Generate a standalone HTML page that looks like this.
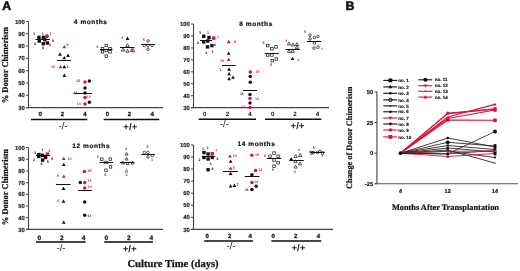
<!DOCTYPE html>
<html><head><meta charset="utf-8"><style>
html,body{margin:0;padding:0;background:#fff;}
body{width:520px;height:271px;overflow:hidden;}
svg{display:block;will-change:transform;}
svg text{text-rendering:geometricPrecision;}

</style></head><body>
<svg width="520" height="271" viewBox="0 0 520 271">
<rect width="520" height="271" fill="#fff"/>
<text x="2.2" y="9.8" font-family="'Liberation Sans', sans-serif" font-size="12.3" font-weight="bold" fill="#111" text-anchor="start" stroke="#111" stroke-width="0.55">A</text>
<text x="345.6" y="9.9" font-family="'Liberation Sans', sans-serif" font-size="12.3" font-weight="bold" fill="#111" text-anchor="start" stroke="#111" stroke-width="0.55">B</text>
<line x1="28.5" y1="21.4" x2="28.5" y2="108.1" stroke="#444" stroke-width="1.1"/>
<line x1="26" y1="107.6" x2="163" y2="107.6" stroke="#444" stroke-width="1.2"/>
<line x1="26" y1="21.4" x2="28.5" y2="21.4" stroke="#444" stroke-width="1.0"/>
<text x="24.8" y="23.5" font-family="'Liberation Sans', sans-serif" font-size="5.9" font-weight="bold" fill="#222" text-anchor="end" stroke="#222" stroke-width="0.15" stroke-linejoin="round">100</text>
<line x1="26" y1="33.71" x2="28.5" y2="33.71" stroke="#444" stroke-width="1.0"/>
<text x="24.8" y="35.81" font-family="'Liberation Sans', sans-serif" font-size="5.9" font-weight="bold" fill="#222" text-anchor="end" stroke="#222" stroke-width="0.15" stroke-linejoin="round">90</text>
<line x1="26" y1="46.03" x2="28.5" y2="46.03" stroke="#444" stroke-width="1.0"/>
<text x="24.8" y="48.13" font-family="'Liberation Sans', sans-serif" font-size="5.9" font-weight="bold" fill="#222" text-anchor="end" stroke="#222" stroke-width="0.15" stroke-linejoin="round">80</text>
<line x1="26" y1="58.34" x2="28.5" y2="58.34" stroke="#444" stroke-width="1.0"/>
<text x="24.8" y="60.44" font-family="'Liberation Sans', sans-serif" font-size="5.9" font-weight="bold" fill="#222" text-anchor="end" stroke="#222" stroke-width="0.15" stroke-linejoin="round">70</text>
<line x1="26" y1="70.66" x2="28.5" y2="70.66" stroke="#444" stroke-width="1.0"/>
<text x="24.8" y="72.76" font-family="'Liberation Sans', sans-serif" font-size="5.9" font-weight="bold" fill="#222" text-anchor="end" stroke="#222" stroke-width="0.15" stroke-linejoin="round">60</text>
<line x1="26" y1="82.97" x2="28.5" y2="82.97" stroke="#444" stroke-width="1.0"/>
<text x="24.8" y="85.07" font-family="'Liberation Sans', sans-serif" font-size="5.9" font-weight="bold" fill="#222" text-anchor="end" stroke="#222" stroke-width="0.15" stroke-linejoin="round">50</text>
<line x1="26" y1="95.29" x2="28.5" y2="95.29" stroke="#444" stroke-width="1.0"/>
<text x="24.8" y="97.39" font-family="'Liberation Sans', sans-serif" font-size="5.9" font-weight="bold" fill="#222" text-anchor="end" stroke="#222" stroke-width="0.15" stroke-linejoin="round">40</text>
<line x1="26" y1="107.6" x2="28.5" y2="107.6" stroke="#444" stroke-width="1.0"/>
<text x="24.8" y="109.7" font-family="'Liberation Sans', sans-serif" font-size="5.9" font-weight="bold" fill="#222" text-anchor="end" stroke="#222" stroke-width="0.15" stroke-linejoin="round">30</text>
<text x="40.1" y="116.1" font-family="'Liberation Sans', sans-serif" font-size="6.0" font-weight="bold" fill="#111" text-anchor="middle" stroke="#111" stroke-width="0.25" stroke-linejoin="round">0</text>
<text x="62.4" y="116.1" font-family="'Liberation Sans', sans-serif" font-size="6.0" font-weight="bold" fill="#111" text-anchor="middle" stroke="#111" stroke-width="0.25" stroke-linejoin="round">2</text>
<text x="84.9" y="116.1" font-family="'Liberation Sans', sans-serif" font-size="6.0" font-weight="bold" fill="#111" text-anchor="middle" stroke="#111" stroke-width="0.25" stroke-linejoin="round">4</text>
<text x="107.4" y="116.1" font-family="'Liberation Sans', sans-serif" font-size="6.0" font-weight="bold" fill="#111" text-anchor="middle" stroke="#111" stroke-width="0.25" stroke-linejoin="round">0</text>
<text x="129.3" y="116.1" font-family="'Liberation Sans', sans-serif" font-size="6.0" font-weight="bold" fill="#111" text-anchor="middle" stroke="#111" stroke-width="0.25" stroke-linejoin="round">2</text>
<text x="152.2" y="116.1" font-family="'Liberation Sans', sans-serif" font-size="6.0" font-weight="bold" fill="#111" text-anchor="middle" stroke="#111" stroke-width="0.25" stroke-linejoin="round">4</text>
<line x1="31" y1="119.4" x2="87.4" y2="119.4" stroke="#0a0a0a" stroke-width="1.5"/>
<text x="63" y="129" font-family="'Liberation Sans', sans-serif" font-size="9.6" font-weight="normal" fill="#222" text-anchor="middle" >-/-</text>
<line x1="103.7" y1="119.4" x2="159.3" y2="119.4" stroke="#0a0a0a" stroke-width="1.5"/>
<text x="130.3" y="129.9" font-family="'Liberation Sans', sans-serif" font-size="9.6" font-weight="bold" fill="#222" text-anchor="middle" >+/+</text>
<text x="73.8" y="23.9" font-family="'Liberation Sans', sans-serif" font-size="6.5" font-weight="bold" fill="#111" text-anchor="start" letter-spacing="0.6" stroke="#111" stroke-width="0.2" stroke-linejoin="round">4 months</text>
<line x1="193.5" y1="24" x2="193.5" y2="108.2" stroke="#444" stroke-width="1.1"/>
<line x1="191" y1="107.7" x2="329" y2="107.7" stroke="#444" stroke-width="1.2"/>
<line x1="191" y1="24" x2="193.5" y2="24" stroke="#444" stroke-width="1.0"/>
<text x="189.8" y="26.1" font-family="'Liberation Sans', sans-serif" font-size="5.9" font-weight="bold" fill="#222" text-anchor="end" stroke="#222" stroke-width="0.15" stroke-linejoin="round">100</text>
<line x1="191" y1="35.96" x2="193.5" y2="35.96" stroke="#444" stroke-width="1.0"/>
<text x="189.8" y="38.06" font-family="'Liberation Sans', sans-serif" font-size="5.9" font-weight="bold" fill="#222" text-anchor="end" stroke="#222" stroke-width="0.15" stroke-linejoin="round">90</text>
<line x1="191" y1="47.91" x2="193.5" y2="47.91" stroke="#444" stroke-width="1.0"/>
<text x="189.8" y="50.01" font-family="'Liberation Sans', sans-serif" font-size="5.9" font-weight="bold" fill="#222" text-anchor="end" stroke="#222" stroke-width="0.15" stroke-linejoin="round">80</text>
<line x1="191" y1="59.87" x2="193.5" y2="59.87" stroke="#444" stroke-width="1.0"/>
<text x="189.8" y="61.97" font-family="'Liberation Sans', sans-serif" font-size="5.9" font-weight="bold" fill="#222" text-anchor="end" stroke="#222" stroke-width="0.15" stroke-linejoin="round">70</text>
<line x1="191" y1="71.83" x2="193.5" y2="71.83" stroke="#444" stroke-width="1.0"/>
<text x="189.8" y="73.93" font-family="'Liberation Sans', sans-serif" font-size="5.9" font-weight="bold" fill="#222" text-anchor="end" stroke="#222" stroke-width="0.15" stroke-linejoin="round">60</text>
<line x1="191" y1="83.79" x2="193.5" y2="83.79" stroke="#444" stroke-width="1.0"/>
<text x="189.8" y="85.89" font-family="'Liberation Sans', sans-serif" font-size="5.9" font-weight="bold" fill="#222" text-anchor="end" stroke="#222" stroke-width="0.15" stroke-linejoin="round">50</text>
<line x1="191" y1="95.74" x2="193.5" y2="95.74" stroke="#444" stroke-width="1.0"/>
<text x="189.8" y="97.84" font-family="'Liberation Sans', sans-serif" font-size="5.9" font-weight="bold" fill="#222" text-anchor="end" stroke="#222" stroke-width="0.15" stroke-linejoin="round">40</text>
<line x1="191" y1="107.7" x2="193.5" y2="107.7" stroke="#444" stroke-width="1.0"/>
<text x="189.8" y="109.8" font-family="'Liberation Sans', sans-serif" font-size="5.9" font-weight="bold" fill="#222" text-anchor="end" stroke="#222" stroke-width="0.15" stroke-linejoin="round">30</text>
<text x="204.8" y="116.4" font-family="'Liberation Sans', sans-serif" font-size="6.2" font-weight="bold" fill="#111" text-anchor="middle" >0</text>
<text x="227.4" y="116.4" font-family="'Liberation Sans', sans-serif" font-size="6.2" font-weight="bold" fill="#111" text-anchor="middle" >2</text>
<text x="249.9" y="116.4" font-family="'Liberation Sans', sans-serif" font-size="6.2" font-weight="bold" fill="#111" text-anchor="middle" >4</text>
<text x="272.7" y="116.4" font-family="'Liberation Sans', sans-serif" font-size="6.2" font-weight="bold" fill="#111" text-anchor="middle" >0</text>
<text x="294.9" y="116.4" font-family="'Liberation Sans', sans-serif" font-size="6.2" font-weight="bold" fill="#111" text-anchor="middle" >2</text>
<text x="317.4" y="116.4" font-family="'Liberation Sans', sans-serif" font-size="6.2" font-weight="bold" fill="#111" text-anchor="middle" >4</text>
<line x1="198.7" y1="119.3" x2="256" y2="119.3" stroke="#0a0a0a" stroke-width="1.5"/>
<text x="224.3" y="127.4" font-family="'Liberation Sans', sans-serif" font-size="9.6" font-weight="normal" fill="#222" text-anchor="middle" >-/-</text>
<line x1="265" y1="119.3" x2="321.3" y2="119.3" stroke="#0a0a0a" stroke-width="1.5"/>
<text x="297.5" y="128.8" font-family="'Liberation Sans', sans-serif" font-size="9.6" font-weight="bold" fill="#222" text-anchor="middle" >+/+</text>
<text x="239.2" y="26" font-family="'Liberation Sans', sans-serif" font-size="6.5" font-weight="bold" fill="#111" text-anchor="start" letter-spacing="0.6" stroke="#111" stroke-width="0.2" stroke-linejoin="round">8 months</text>
<line x1="28.5" y1="147.6" x2="28.5" y2="229.9" stroke="#444" stroke-width="1.1"/>
<line x1="26" y1="229.4" x2="163" y2="229.4" stroke="#444" stroke-width="1.2"/>
<line x1="26" y1="147.6" x2="28.5" y2="147.6" stroke="#444" stroke-width="1.0"/>
<text x="24.8" y="149.7" font-family="'Liberation Sans', sans-serif" font-size="5.9" font-weight="bold" fill="#222" text-anchor="end" stroke="#222" stroke-width="0.15" stroke-linejoin="round">100</text>
<line x1="26" y1="159.29" x2="28.5" y2="159.29" stroke="#444" stroke-width="1.0"/>
<text x="24.8" y="161.39" font-family="'Liberation Sans', sans-serif" font-size="5.9" font-weight="bold" fill="#222" text-anchor="end" stroke="#222" stroke-width="0.15" stroke-linejoin="round">90</text>
<line x1="26" y1="170.97" x2="28.5" y2="170.97" stroke="#444" stroke-width="1.0"/>
<text x="24.8" y="173.07" font-family="'Liberation Sans', sans-serif" font-size="5.9" font-weight="bold" fill="#222" text-anchor="end" stroke="#222" stroke-width="0.15" stroke-linejoin="round">80</text>
<line x1="26" y1="182.66" x2="28.5" y2="182.66" stroke="#444" stroke-width="1.0"/>
<text x="24.8" y="184.76" font-family="'Liberation Sans', sans-serif" font-size="5.9" font-weight="bold" fill="#222" text-anchor="end" stroke="#222" stroke-width="0.15" stroke-linejoin="round">70</text>
<line x1="26" y1="194.34" x2="28.5" y2="194.34" stroke="#444" stroke-width="1.0"/>
<text x="24.8" y="196.44" font-family="'Liberation Sans', sans-serif" font-size="5.9" font-weight="bold" fill="#222" text-anchor="end" stroke="#222" stroke-width="0.15" stroke-linejoin="round">60</text>
<line x1="26" y1="206.03" x2="28.5" y2="206.03" stroke="#444" stroke-width="1.0"/>
<text x="24.8" y="208.13" font-family="'Liberation Sans', sans-serif" font-size="5.9" font-weight="bold" fill="#222" text-anchor="end" stroke="#222" stroke-width="0.15" stroke-linejoin="round">50</text>
<line x1="26" y1="217.71" x2="28.5" y2="217.71" stroke="#444" stroke-width="1.0"/>
<text x="24.8" y="219.81" font-family="'Liberation Sans', sans-serif" font-size="5.9" font-weight="bold" fill="#222" text-anchor="end" stroke="#222" stroke-width="0.15" stroke-linejoin="round">40</text>
<line x1="26" y1="229.4" x2="28.5" y2="229.4" stroke="#444" stroke-width="1.0"/>
<text x="24.8" y="231.5" font-family="'Liberation Sans', sans-serif" font-size="5.9" font-weight="bold" fill="#222" text-anchor="end" stroke="#222" stroke-width="0.15" stroke-linejoin="round">30</text>
<text x="39.25" y="240" font-family="'Liberation Sans', sans-serif" font-size="6.5" font-weight="bold" fill="#111" text-anchor="middle" stroke="#111" stroke-width="0.25" stroke-linejoin="round">0</text>
<text x="61.75" y="240" font-family="'Liberation Sans', sans-serif" font-size="6.5" font-weight="bold" fill="#111" text-anchor="middle" stroke="#111" stroke-width="0.25" stroke-linejoin="round">2</text>
<text x="83.6" y="240" font-family="'Liberation Sans', sans-serif" font-size="6.5" font-weight="bold" fill="#111" text-anchor="middle" stroke="#111" stroke-width="0.25" stroke-linejoin="round">4</text>
<text x="106.4" y="240" font-family="'Liberation Sans', sans-serif" font-size="6.5" font-weight="bold" fill="#111" text-anchor="middle" stroke="#111" stroke-width="0.25" stroke-linejoin="round">0</text>
<text x="128.9" y="240" font-family="'Liberation Sans', sans-serif" font-size="6.5" font-weight="bold" fill="#111" text-anchor="middle" stroke="#111" stroke-width="0.25" stroke-linejoin="round">2</text>
<text x="151.25" y="240" font-family="'Liberation Sans', sans-serif" font-size="6.5" font-weight="bold" fill="#111" text-anchor="middle" stroke="#111" stroke-width="0.25" stroke-linejoin="round">4</text>
<line x1="36" y1="242.1" x2="85.5" y2="242.1" stroke="#0a0a0a" stroke-width="1.5"/>
<text x="61" y="250.8" font-family="'Liberation Sans', sans-serif" font-size="9.6" font-weight="normal" fill="#222" text-anchor="middle" >-/-</text>
<line x1="104.2" y1="242.1" x2="152.9" y2="242.1" stroke="#0a0a0a" stroke-width="1.5"/>
<text x="129.7" y="252.2" font-family="'Liberation Sans', sans-serif" font-size="9.6" font-weight="bold" fill="#222" text-anchor="middle" >+/+</text>
<text x="72.2" y="148.2" font-family="'Liberation Sans', sans-serif" font-size="6.5" font-weight="bold" fill="#111" text-anchor="start" letter-spacing="0.6" stroke="#111" stroke-width="0.2" stroke-linejoin="round">12 months</text>
<line x1="193.5" y1="145" x2="193.5" y2="229.9" stroke="#444" stroke-width="1.1"/>
<line x1="191" y1="229.4" x2="333" y2="229.4" stroke="#444" stroke-width="1.2"/>
<line x1="191" y1="145" x2="193.5" y2="145" stroke="#444" stroke-width="1.0"/>
<text x="189.8" y="147.1" font-family="'Liberation Sans', sans-serif" font-size="5.9" font-weight="bold" fill="#222" text-anchor="end" stroke="#222" stroke-width="0.15" stroke-linejoin="round">100</text>
<line x1="191" y1="157.06" x2="193.5" y2="157.06" stroke="#444" stroke-width="1.0"/>
<text x="189.8" y="159.16" font-family="'Liberation Sans', sans-serif" font-size="5.9" font-weight="bold" fill="#222" text-anchor="end" stroke="#222" stroke-width="0.15" stroke-linejoin="round">90</text>
<line x1="191" y1="169.11" x2="193.5" y2="169.11" stroke="#444" stroke-width="1.0"/>
<text x="189.8" y="171.21" font-family="'Liberation Sans', sans-serif" font-size="5.9" font-weight="bold" fill="#222" text-anchor="end" stroke="#222" stroke-width="0.15" stroke-linejoin="round">80</text>
<line x1="191" y1="181.17" x2="193.5" y2="181.17" stroke="#444" stroke-width="1.0"/>
<text x="189.8" y="183.27" font-family="'Liberation Sans', sans-serif" font-size="5.9" font-weight="bold" fill="#222" text-anchor="end" stroke="#222" stroke-width="0.15" stroke-linejoin="round">70</text>
<line x1="191" y1="193.23" x2="193.5" y2="193.23" stroke="#444" stroke-width="1.0"/>
<text x="189.8" y="195.33" font-family="'Liberation Sans', sans-serif" font-size="5.9" font-weight="bold" fill="#222" text-anchor="end" stroke="#222" stroke-width="0.15" stroke-linejoin="round">60</text>
<line x1="191" y1="205.29" x2="193.5" y2="205.29" stroke="#444" stroke-width="1.0"/>
<text x="189.8" y="207.39" font-family="'Liberation Sans', sans-serif" font-size="5.9" font-weight="bold" fill="#222" text-anchor="end" stroke="#222" stroke-width="0.15" stroke-linejoin="round">50</text>
<line x1="191" y1="217.34" x2="193.5" y2="217.34" stroke="#444" stroke-width="1.0"/>
<text x="189.8" y="219.44" font-family="'Liberation Sans', sans-serif" font-size="5.9" font-weight="bold" fill="#222" text-anchor="end" stroke="#222" stroke-width="0.15" stroke-linejoin="round">40</text>
<line x1="191" y1="229.4" x2="193.5" y2="229.4" stroke="#444" stroke-width="1.0"/>
<text x="189.8" y="231.5" font-family="'Liberation Sans', sans-serif" font-size="5.9" font-weight="bold" fill="#222" text-anchor="end" stroke="#222" stroke-width="0.15" stroke-linejoin="round">30</text>
<text x="207.1" y="237.9" font-family="'Liberation Sans', sans-serif" font-size="6.0" font-weight="bold" fill="#111" text-anchor="middle" stroke="#111" stroke-width="0.25" stroke-linejoin="round">0</text>
<text x="229.7" y="237.9" font-family="'Liberation Sans', sans-serif" font-size="6.0" font-weight="bold" fill="#111" text-anchor="middle" stroke="#111" stroke-width="0.25" stroke-linejoin="round">2</text>
<text x="250.2" y="237.9" font-family="'Liberation Sans', sans-serif" font-size="6.0" font-weight="bold" fill="#111" text-anchor="middle" stroke="#111" stroke-width="0.25" stroke-linejoin="round">4</text>
<text x="273.2" y="237.9" font-family="'Liberation Sans', sans-serif" font-size="6.0" font-weight="bold" fill="#111" text-anchor="middle" stroke="#111" stroke-width="0.25" stroke-linejoin="round">0</text>
<text x="295.7" y="237.9" font-family="'Liberation Sans', sans-serif" font-size="6.0" font-weight="bold" fill="#111" text-anchor="middle" stroke="#111" stroke-width="0.25" stroke-linejoin="round">2</text>
<text x="318.5" y="237.9" font-family="'Liberation Sans', sans-serif" font-size="6.0" font-weight="bold" fill="#111" text-anchor="middle" stroke="#111" stroke-width="0.25" stroke-linejoin="round">4</text>
<line x1="204.2" y1="241" x2="252.9" y2="241" stroke="#0a0a0a" stroke-width="1.5"/>
<text x="231" y="249" font-family="'Liberation Sans', sans-serif" font-size="9.6" font-weight="normal" fill="#222" text-anchor="middle" >-/-</text>
<line x1="271.4" y1="241" x2="321.2" y2="241" stroke="#0a0a0a" stroke-width="1.5"/>
<text x="298.4" y="250.8" font-family="'Liberation Sans', sans-serif" font-size="9.6" font-weight="bold" fill="#222" text-anchor="middle" >+/+</text>
<text x="237.5" y="145.9" font-family="'Liberation Sans', sans-serif" font-size="6.5" font-weight="bold" fill="#111" text-anchor="start" letter-spacing="0.6" stroke="#111" stroke-width="0.2" stroke-linejoin="round">14 months</text>
<text transform="translate(7.6,103.3) rotate(-90)" font-family="Liberation Serif, serif" font-size="8.9" font-weight="bold" fill="#111" stroke="#111" stroke-width="0.2" stroke-linejoin="round" textLength="76.3" lengthAdjust="spacingAndGlyphs">% Donor Chimerism</text>
<text transform="translate(8.0,225.2) rotate(-90)" font-family="Liberation Serif, serif" font-size="8.9" font-weight="bold" fill="#111" stroke="#111" stroke-width="0.2" stroke-linejoin="round" textLength="76.3" lengthAdjust="spacingAndGlyphs">% Donor Chimerism</text>
<text x="127.4" y="267.4" font-family="'Liberation Serif', serif" font-size="10.6" font-weight="bold" fill="#111" text-anchor="start" stroke="#111" stroke-width="0.25" stroke-linejoin="round">Culture Time (days)</text>
<text transform="translate(352.3,188.9) rotate(-90)" font-family="Liberation Serif, serif" font-size="8.3" font-weight="bold" fill="#111" stroke="#111" stroke-width="0.2" stroke-linejoin="round">Change of Donor Chimerism</text>
<text x="391.9" y="210" font-family="'Liberation Serif', serif" font-size="8.35" font-weight="bold" fill="#111" text-anchor="start" stroke="#111" stroke-width="0.2" stroke-linejoin="round">Months After Transplantation</text>
<rect x="37.2" y="35.7" width="3.4" height="3.4" fill="#111"/>
<rect x="41.6" y="35.7" width="3.4" height="3.4" fill="#111"/>
<rect x="37.6" y="39.4" width="3.4" height="3.4" fill="#111"/>
<rect x="41.6" y="42" width="3.4" height="3.4" fill="#111"/>
<rect x="45.7" y="41.3" width="3.4" height="3.4" fill="#111"/>
<rect x="43.1" y="37.9" width="3.4" height="3.4" fill="#111"/>
<circle cx="46.9" cy="36.3" r="2" fill="#d4143c"/>
<line x1="35.5" y1="39.5" x2="50" y2="39.5" stroke="#111" stroke-width="1.0"/>
<text x="34" y="35.3" font-family="'Liberation Sans', sans-serif" font-size="3.6" font-weight="bold" fill="#111" text-anchor="middle" >1</text>
<text x="42.4" y="35.3" font-family="'Liberation Sans', sans-serif" font-size="3.6" font-weight="bold" fill="#111" text-anchor="middle" >1</text>
<text x="50.5" y="35.3" font-family="'Liberation Sans', sans-serif" font-size="3.6" font-weight="bold" fill="#d4143c" text-anchor="middle" >1</text>
<text x="53" y="41.9" font-family="'Liberation Sans', sans-serif" font-size="3.6" font-weight="bold" fill="#111" text-anchor="middle" >6</text>
<text x="35" y="44.8" font-family="'Liberation Sans', sans-serif" font-size="3.6" font-weight="bold" fill="#111" text-anchor="middle" >2</text>
<text x="50" y="46.1" font-family="'Liberation Sans', sans-serif" font-size="3.6" font-weight="bold" fill="#111" text-anchor="middle" >3</text>
<text x="43" y="49.1" font-family="'Liberation Sans', sans-serif" font-size="3.6" font-weight="bold" fill="#111" text-anchor="middle" >8</text>
<polygon points="64.3,44.95 62.4,48.37 66.2,48.37" fill="#d4143c"/>
<text x="67.6" y="46.3" font-family="'Liberation Sans', sans-serif" font-size="3.6" font-weight="bold" fill="#d4143c" text-anchor="middle" >9</text>
<polygon points="60,52.35 58.1,55.77 61.9,55.77" fill="#111"/>
<polygon points="68,53.55 66.1,56.97 69.9,56.97" fill="#111"/>
<polygon points="64.3,55.95 62.4,59.37 66.2,59.37" fill="#111"/>
<polygon points="64.3,64.95 62.4,68.37 66.2,68.37" fill="#111"/>
<polygon points="64.3,73.55 62.4,76.97 66.2,76.97" fill="#111"/>
<polygon points="60.5,64.95 58.6,68.37 62.4,68.37" fill="#d4143c"/>
<text x="53" y="68.3" font-family="'Liberation Sans', sans-serif" font-size="3.6" font-weight="bold" fill="#d4143c" text-anchor="middle" >10</text>
<text x="67.7" y="68.3" font-family="'Liberation Sans', sans-serif" font-size="3.6" font-weight="bold" fill="#111" text-anchor="middle" >1</text>
<line x1="56.8" y1="60.5" x2="71" y2="60.5" stroke="#111" stroke-width="1.0"/>
<circle cx="85" cy="81.9" r="1.75" fill="#d4143c"/>
<text x="78" y="81.5" font-family="'Liberation Sans', sans-serif" font-size="3.6" font-weight="bold" fill="#d4143c" text-anchor="middle" >15</text>
<circle cx="89.4" cy="80.9" r="1.75" fill="#111"/>
<circle cx="85" cy="87.9" r="1.75" fill="#111"/>
<circle cx="85" cy="93.1" r="1.75" fill="#111"/>
<circle cx="89.4" cy="102.25" r="1.75" fill="#111"/>
<line x1="73.75" y1="93.5" x2="92" y2="93.5" stroke="#111" stroke-width="1.0"/>
<text x="75.5" y="94.4" font-family="'Liberation Sans', sans-serif" font-size="3.6" font-weight="bold" fill="#111" text-anchor="middle" >11</text>
<circle cx="85" cy="97.5" r="1.75" fill="#d4143c"/>
<text x="88.8" y="97.6" font-family="'Liberation Sans', sans-serif" font-size="3.6" font-weight="bold" fill="#d4143c" text-anchor="middle" >13</text>
<circle cx="85" cy="104" r="1.75" fill="#d4143c"/>
<text x="78.8" y="104.8" font-family="'Liberation Sans', sans-serif" font-size="3.6" font-weight="bold" fill="#d4143c" text-anchor="middle" >14</text>
<rect x="105" y="44.25" width="2.5" height="2.5" fill="none" stroke="#111" stroke-width="0.7"/>
<rect x="101.25" y="47.35" width="2.5" height="2.5" fill="none" stroke="#111" stroke-width="0.7"/>
<rect x="108.75" y="47.35" width="2.5" height="2.5" fill="none" stroke="#111" stroke-width="0.7"/>
<rect x="101.25" y="50.5" width="2.5" height="2.5" fill="none" stroke="#111" stroke-width="0.7"/>
<rect x="105" y="49.25" width="2.5" height="2.5" fill="none" stroke="#111" stroke-width="0.7"/>
<rect x="108.75" y="50.5" width="2.5" height="2.5" fill="none" stroke="#111" stroke-width="0.7"/>
<rect x="105" y="54.85" width="2.5" height="2.5" fill="none" stroke="#111" stroke-width="0.7"/>
<text x="97.5" y="48.05" font-family="'Liberation Sans', sans-serif" font-size="3.6" font-weight="bold" fill="#d4143c" text-anchor="middle" >6</text>
<line x1="100" y1="49.5" x2="112.5" y2="49.5" stroke="#111" stroke-width="1.0"/>
<text x="122" y="38.7" font-family="'Liberation Sans', sans-serif" font-size="3.6" font-weight="bold" fill="#d4143c" text-anchor="middle" >4</text>
<polygon points="127.5,36.55 125.6,39.97 129.4,39.97" fill="#111"/>
<polygon points="127.5,43.72 125.85,46.69 129.15,46.69" fill="none" stroke="#111" stroke-width="0.7"/>
<polygon points="123,48.12 121.35,51.09 124.65,51.09" fill="none" stroke="#111" stroke-width="0.7"/>
<polygon points="127.5,49.22 125.85,52.19 129.15,52.19" fill="none" stroke="#111" stroke-width="0.7"/>
<polygon points="131.9,48.47 130.25,51.44 133.55,51.44" fill="none" stroke="#111" stroke-width="0.7"/>
<polygon points="133,48.45 131.1,51.87 134.9,51.87" fill="none" stroke="#d4143c" stroke-width="0.7"/>
<line x1="120" y1="47.5" x2="134.4" y2="47.5" stroke="#111" stroke-width="1.0"/>
<text x="143.75" y="40.55" font-family="'Liberation Sans', sans-serif" font-size="3.6" font-weight="bold" fill="#d4143c" text-anchor="middle" >5</text>
<circle cx="148" cy="41" r="1.3" fill="none" stroke="#111" stroke-width="0.7"/>
<circle cx="144.4" cy="45.5" r="1.3" fill="none" stroke="#111" stroke-width="0.7"/>
<circle cx="148" cy="45.5" r="1.3" fill="none" stroke="#111" stroke-width="0.7"/>
<circle cx="152" cy="45.5" r="1.3" fill="none" stroke="#111" stroke-width="0.7"/>
<circle cx="148" cy="49.25" r="1.3" fill="none" stroke="#111" stroke-width="0.7"/>
<line x1="141" y1="44.5" x2="155" y2="44.5" stroke="#111" stroke-width="1.0"/>
<rect x="202.05" y="34.55" width="3.4" height="3.4" fill="#111"/>
<rect x="202.05" y="40.2" width="3.4" height="3.4" fill="#111"/>
<rect x="206.05" y="39.3" width="3.4" height="3.4" fill="#111"/>
<rect x="207.3" y="35.8" width="3.4" height="3.4" fill="#111"/>
<rect x="205.8" y="45.2" width="3.4" height="3.4" fill="#111"/>
<rect x="210.2" y="43.9" width="3.4" height="3.4" fill="#111"/>
<rect x="212.05" y="36.4" width="3.4" height="3.4" fill="#d4143c"/>
<line x1="200" y1="40.5" x2="212" y2="40.5" stroke="#111" stroke-width="1.0"/>
<text x="200" y="34.3" font-family="'Liberation Sans', sans-serif" font-size="3.6" font-weight="bold" fill="#111" text-anchor="middle" >3</text>
<text x="208" y="33.8" font-family="'Liberation Sans', sans-serif" font-size="3.6" font-weight="bold" fill="#111" text-anchor="middle" >1</text>
<text x="218" y="38.2" font-family="'Liberation Sans', sans-serif" font-size="3.6" font-weight="bold" fill="#d4143c" text-anchor="middle" >1</text>
<text x="198" y="44.3" font-family="'Liberation Sans', sans-serif" font-size="3.6" font-weight="bold" fill="#111" text-anchor="middle" >2</text>
<text x="215" y="45.7" font-family="'Liberation Sans', sans-serif" font-size="3.6" font-weight="bold" fill="#111" text-anchor="middle" >6</text>
<text x="206.25" y="54.3" font-family="'Liberation Sans', sans-serif" font-size="3.6" font-weight="bold" fill="#111" text-anchor="middle" >4</text>
<text x="212.5" y="52.55" font-family="'Liberation Sans', sans-serif" font-size="3.6" font-weight="bold" fill="#111" text-anchor="middle" >3</text>
<polygon points="228.75,39.85 226.85,43.27 230.65,43.27" fill="#d4143c"/>
<text x="235" y="43.3" font-family="'Liberation Sans', sans-serif" font-size="3.6" font-weight="bold" fill="#d4143c" text-anchor="middle" >9</text>
<polygon points="228.75,51.45 226.85,54.87 230.65,54.87" fill="#111"/>
<polygon points="229.1,67.35 227.2,70.77 231,70.77" fill="#111"/>
<polygon points="229.1,71.95 227.2,75.37 231,75.37" fill="#111"/>
<polygon points="229.1,76.95 227.2,80.37 231,80.37" fill="#111"/>
<polygon points="233,75.45 231.1,78.87 234.9,78.87" fill="#111"/>
<polygon points="228.75,57.7 226.85,61.12 230.65,61.12" fill="#d4143c"/>
<text x="221.9" y="61.9" font-family="'Liberation Sans', sans-serif" font-size="3.6" font-weight="bold" fill="#d4143c" text-anchor="middle" >10</text>
<line x1="222" y1="65.5" x2="235.6" y2="65.5" stroke="#111" stroke-width="1.0"/>
<text x="220.3" y="70.7" font-family="'Liberation Sans', sans-serif" font-size="3.6" font-weight="bold" fill="#111" text-anchor="middle" >1</text>
<circle cx="250.25" cy="72.1" r="1.75" fill="#d4143c"/>
<text x="257.5" y="72.8" font-family="'Liberation Sans', sans-serif" font-size="3.6" font-weight="bold" fill="#d4143c" text-anchor="middle" >15</text>
<circle cx="250.25" cy="76.6" r="1.75" fill="#111"/>
<circle cx="250.25" cy="82.25" r="1.75" fill="#111"/>
<circle cx="250" cy="94.4" r="1.75" fill="#111"/>
<circle cx="250" cy="103.1" r="1.75" fill="#111"/>
<line x1="243" y1="90.5" x2="257" y2="90.5" stroke="#111" stroke-width="1.0"/>
<text x="241.9" y="94.8" font-family="'Liberation Sans', sans-serif" font-size="3.6" font-weight="bold" fill="#111" text-anchor="middle" >11</text>
<circle cx="250" cy="98.5" r="1.75" fill="#d4143c"/>
<text x="256.9" y="99.8" font-family="'Liberation Sans', sans-serif" font-size="3.6" font-weight="bold" fill="#d4143c" text-anchor="middle" >13</text>
<circle cx="250" cy="107.5" r="1.75" fill="#d4143c"/>
<text x="243" y="108.2" font-family="'Liberation Sans', sans-serif" font-size="3.6" font-weight="bold" fill="#d4143c" text-anchor="middle" >14</text>
<text x="263.5" y="43.8" font-family="'Liberation Sans', sans-serif" font-size="3.6" font-weight="bold" fill="#d4143c" text-anchor="middle" >6</text>
<rect x="266.5" y="44.35" width="2.5" height="2.5" fill="none" stroke="#111" stroke-width="0.7"/>
<rect x="270.65" y="47.5" width="2.5" height="2.5" fill="none" stroke="#111" stroke-width="0.7"/>
<rect x="274.75" y="45.65" width="2.5" height="2.5" fill="none" stroke="#111" stroke-width="0.7"/>
<rect x="266.5" y="53.75" width="2.5" height="2.5" fill="none" stroke="#111" stroke-width="0.7"/>
<rect x="270.65" y="53.75" width="2.5" height="2.5" fill="none" stroke="#111" stroke-width="0.7"/>
<rect x="271" y="59.35" width="2.5" height="2.5" fill="none" stroke="#111" stroke-width="0.7"/>
<rect x="275" y="57.75" width="2.5" height="2.5" fill="none" stroke="#111" stroke-width="0.7"/>
<line x1="265" y1="53.5" x2="278.75" y2="53.5" stroke="#111" stroke-width="1.0"/>
<text x="271.25" y="65.7" font-family="'Liberation Sans', sans-serif" font-size="3.6" font-weight="bold" fill="#d4143c" text-anchor="middle" >5</text>
<text x="286.25" y="41.9" font-family="'Liberation Sans', sans-serif" font-size="3.6" font-weight="bold" fill="#d4143c" text-anchor="middle" >4</text>
<polygon points="289,41.97 287.35,44.94 290.65,44.94" fill="none" stroke="#111" stroke-width="0.7"/>
<polygon points="293,42.97 291.35,45.94 294.65,45.94" fill="none" stroke="#111" stroke-width="0.7"/>
<polygon points="296.9,42.62 295.25,45.59 298.55,45.59" fill="none" stroke="#111" stroke-width="0.7"/>
<polygon points="296.9,45.47 295.25,48.44 298.55,48.44" fill="none" stroke="#111" stroke-width="0.7"/>
<polygon points="289,49.47 287.35,52.44 290.65,52.44" fill="none" stroke="#111" stroke-width="0.7"/>
<polygon points="292.75,49.47 291.1,52.44 294.4,52.44" fill="none" stroke="#111" stroke-width="0.7"/>
<line x1="285.6" y1="49.5" x2="300" y2="49.5" stroke="#111" stroke-width="1.0"/>
<polygon points="292.5,56.7 290.6,60.12 294.4,60.12" fill="#111"/>
<text x="298" y="61.3" font-family="'Liberation Sans', sans-serif" font-size="3.6" font-weight="bold" fill="#d4143c" text-anchor="middle" >4</text>
<text x="305.25" y="33.2" font-family="'Liberation Sans', sans-serif" font-size="3.6" font-weight="bold" fill="#d4143c" text-anchor="middle" >5</text>
<circle cx="310" cy="35.25" r="1.3" fill="none" stroke="#111" stroke-width="0.7"/>
<circle cx="310" cy="39" r="1.3" fill="none" stroke="#111" stroke-width="0.7"/>
<circle cx="314.4" cy="37.5" r="1.3" fill="none" stroke="#111" stroke-width="0.7"/>
<circle cx="318" cy="36.5" r="1.3" fill="none" stroke="#111" stroke-width="0.7"/>
<circle cx="314.4" cy="43.1" r="1.3" fill="none" stroke="#111" stroke-width="0.7"/>
<circle cx="314" cy="48.1" r="1.3" fill="none" stroke="#111" stroke-width="0.7"/>
<circle cx="318" cy="47.25" r="1.3" fill="none" stroke="#111" stroke-width="0.7"/>
<line x1="306.9" y1="41.5" x2="321.25" y2="41.5" stroke="#111" stroke-width="1.0"/>
<text x="321.9" y="50.05" font-family="'Liberation Sans', sans-serif" font-size="3.6" font-weight="bold" fill="#d4143c" text-anchor="middle" >1</text>
<rect x="37.2" y="152.9" width="3.4" height="3.4" fill="#111"/>
<rect x="37.2" y="154.7" width="3.4" height="3.4" fill="#111"/>
<rect x="40.9" y="153.6" width="3.4" height="3.4" fill="#111"/>
<rect x="43.9" y="155.8" width="3.4" height="3.4" fill="#111"/>
<rect x="40.9" y="158.4" width="3.4" height="3.4" fill="#111"/>
<rect x="45.7" y="152.4" width="3.4" height="3.4" fill="#d4143c"/>
<line x1="36" y1="155.5" x2="50" y2="155.5" stroke="#111" stroke-width="1.0"/>
<text x="35.2" y="153.6" font-family="'Liberation Sans', sans-serif" font-size="3.6" font-weight="bold" fill="#111" text-anchor="middle" >3</text>
<text x="42.6" y="151.3" font-family="'Liberation Sans', sans-serif" font-size="3.6" font-weight="bold" fill="#111" text-anchor="middle" >1</text>
<text x="49.3" y="152.1" font-family="'Liberation Sans', sans-serif" font-size="3.6" font-weight="bold" fill="#d4143c" text-anchor="middle" >2</text>
<text x="34.1" y="160.6" font-family="'Liberation Sans', sans-serif" font-size="3.6" font-weight="bold" fill="#111" text-anchor="middle" >2</text>
<text x="52.2" y="159.5" font-family="'Liberation Sans', sans-serif" font-size="3.6" font-weight="bold" fill="#111" text-anchor="middle" >6</text>
<text x="47.8" y="162.9" font-family="'Liberation Sans', sans-serif" font-size="3.6" font-weight="bold" fill="#111" text-anchor="middle" >5</text>
<text x="41.5" y="164.9" font-family="'Liberation Sans', sans-serif" font-size="3.6" font-weight="bold" fill="#111" text-anchor="middle" >8</text>
<polygon points="63.75,156.7 61.85,160.12 65.65,160.12" fill="#d4143c"/>
<text x="69.4" y="159.8" font-family="'Liberation Sans', sans-serif" font-size="3.6" font-weight="bold" fill="#d4143c" text-anchor="middle" >10</text>
<polygon points="63.75,162.7 61.85,166.12 65.65,166.12" fill="#111"/>
<polygon points="63.5,186.55 61.6,189.97 65.4,189.97" fill="#111"/>
<polygon points="63.5,199.45 61.6,202.87 65.4,202.87" fill="#111"/>
<polygon points="63.75,220.45 61.85,223.87 65.65,223.87" fill="#111"/>
<polygon points="63.75,174.45 61.85,177.87 65.65,177.87" fill="#d4143c"/>
<text x="57.75" y="176.9" font-family="'Liberation Sans', sans-serif" font-size="3.6" font-weight="bold" fill="#d4143c" text-anchor="middle" >9</text>
<line x1="56" y1="184.5" x2="70.6" y2="184.5" stroke="#111" stroke-width="1.0"/>
<text x="58" y="202.3" font-family="'Liberation Sans', sans-serif" font-size="3.6" font-weight="bold" fill="#111" text-anchor="middle" >1</text>
<circle cx="84.4" cy="171.5" r="1.75" fill="#d4143c"/>
<text x="89.4" y="172.3" font-family="'Liberation Sans', sans-serif" font-size="3.6" font-weight="bold" fill="#d4143c" text-anchor="middle" >15</text>
<circle cx="80.25" cy="182.4" r="1.75" fill="#111"/>
<circle cx="84.75" cy="182.4" r="1.75" fill="#d4143c"/>
<text x="89.4" y="182.3" font-family="'Liberation Sans', sans-serif" font-size="3.6" font-weight="bold" fill="#d4143c" text-anchor="middle" >13</text>
<circle cx="84.75" cy="188" r="1.75" fill="#d4143c"/>
<text x="89.75" y="188.3" font-family="'Liberation Sans', sans-serif" font-size="3.6" font-weight="bold" fill="#d4143c" text-anchor="middle" >14</text>
<line x1="78" y1="190.5" x2="92" y2="190.5" stroke="#111" stroke-width="1.0"/>
<circle cx="84.75" cy="202" r="1.75" fill="#111"/>
<circle cx="84.75" cy="215.25" r="1.75" fill="#111"/>
<text x="89.4" y="216.55" font-family="'Liberation Sans', sans-serif" font-size="3.6" font-weight="bold" fill="#111" text-anchor="middle" >11</text>
<text x="98" y="158.2" font-family="'Liberation Sans', sans-serif" font-size="3.6" font-weight="bold" fill="#d4143c" text-anchor="middle" >6</text>
<rect x="100.55" y="157.95" width="2.5" height="2.5" fill="none" stroke="#111" stroke-width="0.7"/>
<rect x="109.05" y="157.95" width="2.5" height="2.5" fill="none" stroke="#111" stroke-width="0.7"/>
<rect x="109.25" y="165.65" width="2.5" height="2.5" fill="none" stroke="#111" stroke-width="0.7"/>
<rect x="104.75" y="169.05" width="2.5" height="2.5" fill="none" stroke="#111" stroke-width="0.7"/>
<ellipse cx="106" cy="162.5" rx="2.4" ry="1.4" fill="#fff" stroke="#111" stroke-width="0.7"/>
<line x1="99.4" y1="162.5" x2="113" y2="162.5" stroke="#111" stroke-width="1.0"/>
<text x="105.3" y="176" font-family="'Liberation Sans', sans-serif" font-size="3.6" font-weight="bold" fill="#d4143c" text-anchor="middle" >5</text>
<text x="126" y="149.9" font-family="'Liberation Sans', sans-serif" font-size="3.6" font-weight="bold" fill="#d4143c" text-anchor="middle" >4</text>
<polygon points="126.5,152.38 125,155.08 128,155.08" fill="none" stroke="#111" stroke-width="0.7"/>
<polygon points="126.5,157.28 125,159.98 128,159.98" fill="none" stroke="#111" stroke-width="0.7"/>
<polygon points="123,161.28 121.5,163.98 124.5,163.98" fill="none" stroke="#111" stroke-width="0.7"/>
<polygon points="127.5,161.98 126,164.68 129,164.68" fill="none" stroke="#111" stroke-width="0.7"/>
<polygon points="132.7,161.28 131.2,163.98 134.2,163.98" fill="none" stroke="#111" stroke-width="0.7"/>
<polygon points="126.5,169.38 125,172.08 128,172.08" fill="none" stroke="#d4143c" stroke-width="0.7"/>
<text x="126.5" y="176.2" font-family="'Liberation Sans', sans-serif" font-size="3.6" font-weight="bold" fill="#d4143c" text-anchor="middle" >4</text>
<line x1="120" y1="162.5" x2="134.4" y2="162.5" stroke="#111" stroke-width="1.0"/>
<text x="147.5" y="148.3" font-family="'Liberation Sans', sans-serif" font-size="3.6" font-weight="bold" fill="#d4143c" text-anchor="middle" >5</text>
<circle cx="144.4" cy="152.5" r="1.3" fill="none" stroke="#111" stroke-width="0.7"/>
<circle cx="148" cy="152.5" r="1.3" fill="none" stroke="#111" stroke-width="0.7"/>
<circle cx="152.25" cy="155.6" r="1.3" fill="none" stroke="#111" stroke-width="0.7"/>
<circle cx="148" cy="156.9" r="1.3" fill="none" stroke="#111" stroke-width="0.7"/>
<line x1="141.25" y1="154.5" x2="155" y2="154.5" stroke="#111" stroke-width="1.0"/>
<text x="152" y="160.7" font-family="'Liberation Sans', sans-serif" font-size="3.6" font-weight="bold" fill="#d4143c" text-anchor="middle" >1</text>
<rect x="202.3" y="150.8" width="3.4" height="3.4" fill="#111"/>
<rect x="206.4" y="152.3" width="3.4" height="3.4" fill="#111"/>
<rect x="202.3" y="155.8" width="3.4" height="3.4" fill="#111"/>
<rect x="206.4" y="157.3" width="3.4" height="3.4" fill="#111"/>
<rect x="210.55" y="155.8" width="3.4" height="3.4" fill="#111"/>
<rect x="206.4" y="168.05" width="3.4" height="3.4" fill="#111"/>
<rect x="210.55" y="152.05" width="3.4" height="3.4" fill="#d4143c"/>
<line x1="201.9" y1="156.5" x2="215" y2="156.5" stroke="#111" stroke-width="1.0"/>
<text x="203" y="149.8" font-family="'Liberation Sans', sans-serif" font-size="3.6" font-weight="bold" fill="#111" text-anchor="middle" >1</text>
<text x="207.75" y="149.3" font-family="'Liberation Sans', sans-serif" font-size="3.6" font-weight="bold" fill="#111" text-anchor="middle" >1</text>
<text x="216.25" y="151.9" font-family="'Liberation Sans', sans-serif" font-size="3.6" font-weight="bold" fill="#d4143c" text-anchor="middle" >7</text>
<text x="199.4" y="161.3" font-family="'Liberation Sans', sans-serif" font-size="3.6" font-weight="bold" fill="#111" text-anchor="middle" >2</text>
<text x="217.5" y="160.3" font-family="'Liberation Sans', sans-serif" font-size="3.6" font-weight="bold" fill="#111" text-anchor="middle" >6</text>
<text x="210.6" y="165.05" font-family="'Liberation Sans', sans-serif" font-size="3.6" font-weight="bold" fill="#111" text-anchor="middle" >3</text>
<text x="212.5" y="170.3" font-family="'Liberation Sans', sans-serif" font-size="3.6" font-weight="bold" fill="#111" text-anchor="middle" >8</text>
<polygon points="230,154.2 228.1,157.62 231.9,157.62" fill="#d4143c"/>
<text x="234.75" y="157.3" font-family="'Liberation Sans', sans-serif" font-size="3.6" font-weight="bold" fill="#d4143c" text-anchor="middle" >10</text>
<polygon points="230.6,159.45 228.7,162.87 232.5,162.87" fill="#111"/>
<polygon points="230.6,171.7 228.7,175.12 232.5,175.12" fill="#111"/>
<polygon points="230.6,184.2 228.7,187.62 232.5,187.62" fill="#111"/>
<polygon points="234.4,183.55 232.5,186.97 236.3,186.97" fill="#111"/>
<polygon points="230.6,166.45 228.7,169.87 232.5,169.87" fill="#d4143c"/>
<text x="233.75" y="168.8" font-family="'Liberation Sans', sans-serif" font-size="3.6" font-weight="bold" fill="#d4143c" text-anchor="middle" >9</text>
<line x1="223" y1="171.5" x2="238" y2="171.5" stroke="#111" stroke-width="1.0"/>
<text x="237.5" y="185.7" font-family="'Liberation Sans', sans-serif" font-size="3.6" font-weight="bold" fill="#111" text-anchor="middle" >7</text>
<circle cx="251.9" cy="155.25" r="1.75" fill="#d4143c"/>
<text x="256.9" y="156.05" font-family="'Liberation Sans', sans-serif" font-size="3.6" font-weight="bold" fill="#d4143c" text-anchor="middle" >15</text>
<circle cx="255.6" cy="170.5" r="1.75" fill="#d4143c"/>
<text x="260.3" y="170.9" font-family="'Liberation Sans', sans-serif" font-size="3.6" font-weight="bold" fill="#d4143c" text-anchor="middle" >12</text>
<circle cx="251.9" cy="174.75" r="1.75" fill="#111"/>
<line x1="244.75" y1="176.5" x2="259.4" y2="176.5" stroke="#111" stroke-width="1.0"/>
<circle cx="251.9" cy="182.5" r="1.75" fill="#d4143c"/>
<text x="256" y="182.8" font-family="'Liberation Sans', sans-serif" font-size="3.6" font-weight="bold" fill="#d4143c" text-anchor="middle" >14</text>
<circle cx="256.25" cy="186.25" r="1.75" fill="#111"/>
<circle cx="251.9" cy="189.4" r="1.75" fill="#111"/>
<text x="246.9" y="190.7" font-family="'Liberation Sans', sans-serif" font-size="3.6" font-weight="bold" fill="#111" text-anchor="middle" >11</text>
<text x="265" y="156.9" font-family="'Liberation Sans', sans-serif" font-size="3.6" font-weight="bold" fill="#d4143c" text-anchor="middle" >6</text>
<rect x="268.75" y="155" width="2.5" height="2.5" fill="none" stroke="#111" stroke-width="0.7"/>
<rect x="272.75" y="151.85" width="2.5" height="2.5" fill="none" stroke="#111" stroke-width="0.7"/>
<rect x="276.85" y="155" width="2.5" height="2.5" fill="none" stroke="#111" stroke-width="0.7"/>
<rect x="272.75" y="158.75" width="2.5" height="2.5" fill="none" stroke="#111" stroke-width="0.7"/>
<rect x="276.85" y="161.5" width="2.5" height="2.5" fill="none" stroke="#111" stroke-width="0.7"/>
<rect x="272.75" y="165" width="2.5" height="2.5" fill="none" stroke="#111" stroke-width="0.7"/>
<line x1="266.9" y1="158.5" x2="281.25" y2="158.5" stroke="#111" stroke-width="1.0"/>
<text x="273.1" y="171.3" font-family="'Liberation Sans', sans-serif" font-size="3.6" font-weight="bold" fill="#d4143c" text-anchor="middle" >5</text>
<text x="298.75" y="151.3" font-family="'Liberation Sans', sans-serif" font-size="3.6" font-weight="bold" fill="#d4143c" text-anchor="middle" >4</text>
<polygon points="291.25,156.95 289.35,160.37 293.15,160.37" fill="#111"/>
<polygon points="295.6,154.47 293.95,157.44 297.25,157.44" fill="none" stroke="#111" stroke-width="0.7"/>
<polygon points="300.25,153.47 298.6,156.44 301.9,156.44" fill="none" stroke="#111" stroke-width="0.7"/>
<polygon points="295.6,159.72 293.95,162.69 297.25,162.69" fill="none" stroke="#111" stroke-width="0.7"/>
<polygon points="300,161.97 298.35,164.94 301.65,164.94" fill="none" stroke="#111" stroke-width="0.7"/>
<polygon points="295.6,165.12 293.95,168.09 297.25,168.09" fill="none" stroke="#111" stroke-width="0.7"/>
<line x1="289.4" y1="160.5" x2="303.75" y2="160.5" stroke="#111" stroke-width="1.0"/>
<text x="294.75" y="172.55" font-family="'Liberation Sans', sans-serif" font-size="3.6" font-weight="bold" fill="#d4143c" text-anchor="middle" >4</text>
<text x="313.8" y="148.6" font-family="'Liberation Sans', sans-serif" font-size="3.6" font-weight="bold" fill="#d4143c" text-anchor="middle" >5</text>
<circle cx="313.5" cy="152.7" r="1.3" fill="none" stroke="#111" stroke-width="0.7"/>
<circle cx="317.5" cy="152.4" r="1.3" fill="none" stroke="#111" stroke-width="0.7"/>
<circle cx="320" cy="151.5" r="1.3" fill="none" stroke="#111" stroke-width="0.7"/>
<polygon points="322.5,155.35 320.6,151.93 324.4,151.93" fill="none" stroke="#111" stroke-width="0.7"/>
<polygon points="311.5,154.85 309.6,151.43 313.4,151.43" fill="none" stroke="#111" stroke-width="0.7"/>
<line x1="310.3" y1="152.5" x2="324.4" y2="152.5" stroke="#111" stroke-width="1.0"/>
<text x="321.9" y="156.9" font-family="'Liberation Sans', sans-serif" font-size="3.6" font-weight="bold" fill="#d4143c" text-anchor="middle" >1</text>
<line x1="376.9" y1="91.5" x2="376.9" y2="183.75" stroke="#555" stroke-width="1.2"/>
<line x1="375" y1="183.75" x2="518" y2="183.75" stroke="#555" stroke-width="1.2"/>
<line x1="374.5" y1="92" x2="376.9" y2="92" stroke="#444" stroke-width="1.0"/>
<text x="373.2" y="94" font-family="'Liberation Sans', sans-serif" font-size="5.8" font-weight="bold" fill="#222" text-anchor="end" stroke="#222" stroke-width="0.2" stroke-linejoin="round">50</text>
<line x1="374.5" y1="122.6" x2="376.9" y2="122.6" stroke="#444" stroke-width="1.0"/>
<text x="373.2" y="124.6" font-family="'Liberation Sans', sans-serif" font-size="5.8" font-weight="bold" fill="#222" text-anchor="end" stroke="#222" stroke-width="0.2" stroke-linejoin="round">25</text>
<line x1="374.5" y1="153.2" x2="376.9" y2="153.2" stroke="#444" stroke-width="1.0"/>
<text x="373.2" y="155.2" font-family="'Liberation Sans', sans-serif" font-size="5.8" font-weight="bold" fill="#222" text-anchor="end" stroke="#222" stroke-width="0.2" stroke-linejoin="round">0</text>
<line x1="374.5" y1="183.8" x2="376.9" y2="183.8" stroke="#444" stroke-width="1.0"/>
<text x="373.2" y="185.8" font-family="'Liberation Sans', sans-serif" font-size="5.8" font-weight="bold" fill="#222" text-anchor="end" stroke="#222" stroke-width="0.2" stroke-linejoin="round">-25</text>
<text x="400.5" y="193" font-family="'Liberation Sans', sans-serif" font-size="5.7" font-weight="bold" fill="#222" text-anchor="middle" stroke="#222" stroke-width="0.2" stroke-linejoin="round">4</text>
<text x="447.75" y="193" font-family="'Liberation Sans', sans-serif" font-size="5.7" font-weight="bold" fill="#222" text-anchor="middle" stroke="#222" stroke-width="0.2" stroke-linejoin="round">12</text>
<text x="495" y="193" font-family="'Liberation Sans', sans-serif" font-size="5.7" font-weight="bold" fill="#222" text-anchor="middle" stroke="#222" stroke-width="0.2" stroke-linejoin="round">14</text>
<polyline points="400.5,153.2 447.75,138 495,147" fill="none" stroke="#1c1c1c" stroke-width="0.85"/>
<polyline points="400.5,153.2 447.75,142.3 495,146" fill="none" stroke="#1c1c1c" stroke-width="0.85"/>
<polyline points="400.5,153.2 447.75,145.5 495,149.5" fill="none" stroke="#1c1c1c" stroke-width="0.85"/>
<polyline points="400.5,153.2 447.75,148 495,152" fill="none" stroke="#1c1c1c" stroke-width="0.85"/>
<polyline points="400.5,153.2 447.75,151.3 495,157.5" fill="none" stroke="#1c1c1c" stroke-width="0.85"/>
<polyline points="400.5,153.2 447.75,150 495,163.1" fill="none" stroke="#1c1c1c" stroke-width="0.85"/>
<polyline points="400.5,153.2 447.75,153.9 495,150.5" fill="none" stroke="#1c1c1c" stroke-width="0.85"/>
<polyline points="400.5,153.2 447.75,151.3 495,151" fill="none" stroke="#d4143c" stroke-width="0.9"/>
<polyline points="400.5,153.2 447.75,156.5 495,153.5" fill="none" stroke="#d4143c" stroke-width="0.9"/>
<polyline points="400.5,153.2 447.75,113.2 495,108.7" fill="none" stroke="#d4143c" stroke-width="1.1"/>
<polyline points="400.5,153.2 447.75,113.6 495,109.2" fill="none" stroke="#d4143c" stroke-width="1.1"/>
<polyline points="400.5,153.2 447.75,117 495,104.4" fill="none" stroke="#d4143c" stroke-width="1.1"/>
<polyline points="400.5,153.2 447.75,118.5 495,110" fill="none" stroke="#d4143c" stroke-width="1.1"/>
<polyline points="400.5,153.2 447.75,120 495,120.3" fill="none" stroke="#d4143c" stroke-width="1.1"/>
<polyline points="400.5,153.2 447.75,153.9 495,131.5" fill="none" stroke="#1c1c1c" stroke-width="0.8"/>
<circle cx="400.5" cy="153.2" r="1.9" fill="#111"/>
<circle cx="447.75" cy="138" r="1.3" fill="#111"/>
<circle cx="447.75" cy="142.3" r="1.3" fill="#111"/>
<circle cx="447.75" cy="145.5" r="1.3" fill="#111"/>
<circle cx="447.75" cy="148" r="1.3" fill="#111"/>
<circle cx="447.75" cy="151.3" r="1.3" fill="#111"/>
<circle cx="447.75" cy="150" r="1.3" fill="#111"/>
<circle cx="447.75" cy="153.9" r="1.3" fill="#111"/>
<circle cx="447.75" cy="142.3" r="1.9" fill="#111"/>
<rect x="493.6" y="144.1" width="2.8" height="2.8" fill="#111"/>
<rect x="493.6" y="146.1" width="2.8" height="2.8" fill="#111"/>
<rect x="493.6" y="148.6" width="2.8" height="2.8" fill="#111"/>
<rect x="493.6" y="151.1" width="2.8" height="2.8" fill="#111"/>
<rect x="493.6" y="152.6" width="2.8" height="2.8" fill="#111"/>
<circle cx="495" cy="131.5" r="2" fill="#111"/>
<circle cx="495" cy="157.5" r="1.1" fill="#111"/>
<circle cx="495" cy="163.1" r="0.6" fill="#111"/>
<circle cx="447.75" cy="151.3" r="1.3" fill="#d4143c"/>
<circle cx="447.75" cy="156.5" r="1.6" fill="#d4143c"/>
<circle cx="495" cy="151" r="1.3" fill="#d4143c"/>
<circle cx="447.75" cy="113.2" r="1.7" fill="#d4143c"/>
<polygon points="495,102.78 493.5,105.48 496.5,105.48" fill="#d4143c"/>
<circle cx="447.75" cy="118.8" r="1.9" fill="#d4143c"/>
<rect x="493.4" y="107.1" width="3.2" height="3.2" fill="#d4143c"/>
<rect x="493.4" y="108.6" width="3.2" height="3.2" fill="#d4143c"/>
<rect x="446.05" y="118.3" width="3.4" height="3.4" fill="#d4143c"/>
<rect x="493.2" y="118.5" width="3.6" height="3.6" fill="#d4143c"/>
<line x1="383.3" y1="80.4" x2="397.3" y2="80.4" stroke="#111" stroke-width="1.1"/>
<rect x="388.5" y="78.5" width="3.8" height="3.8" fill="#111"/>
<text x="398.2" y="82" font-family="'Liberation Sans', sans-serif" font-size="4.5" font-weight="bold" fill="#111" text-anchor="start" stroke="#111" stroke-width="0.15" stroke-linejoin="round">no. 1</text>
<line x1="383.3" y1="86.9" x2="397.3" y2="86.9" stroke="#111" stroke-width="1.1"/>
<polygon points="390.4,84.85 388.5,88.27 392.3,88.27" fill="#111"/>
<text x="398.2" y="88.5" font-family="'Liberation Sans', sans-serif" font-size="4.5" font-weight="bold" fill="#111" text-anchor="start" stroke="#111" stroke-width="0.15" stroke-linejoin="round">no. 2</text>
<line x1="383.3" y1="93.3" x2="397.3" y2="93.3" stroke="#111" stroke-width="1.1"/>
<circle cx="390.4" cy="93.3" r="1.3" fill="#111"/>
<text x="398.2" y="94.9" font-family="'Liberation Sans', sans-serif" font-size="4.5" font-weight="bold" fill="#111" text-anchor="start" stroke="#111" stroke-width="0.15" stroke-linejoin="round">no. 3</text>
<line x1="383.3" y1="99.9" x2="397.3" y2="99.9" stroke="#111" stroke-width="1.1"/>
<circle cx="390.4" cy="99.9" r="1.7" fill="none" stroke="#111" stroke-width="1.0"/>
<text x="398.2" y="101.5" font-family="'Liberation Sans', sans-serif" font-size="4.5" font-weight="bold" fill="#111" text-anchor="start" stroke="#111" stroke-width="0.15" stroke-linejoin="round">no. 4</text>
<line x1="383.3" y1="105.9" x2="397.3" y2="105.9" stroke="#111" stroke-width="1.1"/>
<circle cx="390.4" cy="105.9" r="0.8" fill="#111"/>
<text x="398.2" y="107.5" font-family="'Liberation Sans', sans-serif" font-size="4.5" font-weight="bold" fill="#111" text-anchor="start" stroke="#111" stroke-width="0.15" stroke-linejoin="round">no. 5</text>
<line x1="383.3" y1="111.8" x2="397.3" y2="111.8" stroke="#111" stroke-width="1.1"/>
<circle cx="390.4" cy="111.8" r="1.3" fill="#111"/>
<text x="398.2" y="113.4" font-family="'Liberation Sans', sans-serif" font-size="4.5" font-weight="bold" fill="#111" text-anchor="start" stroke="#111" stroke-width="0.15" stroke-linejoin="round">no. 6</text>
<line x1="383.3" y1="118" x2="397.3" y2="118" stroke="#d4143c" stroke-width="1.1"/>
<polygon points="390.4,119.94 388.6,116.7 392.2,116.7" fill="#d4143c"/>
<text x="398.2" y="119.6" font-family="'Liberation Sans', sans-serif" font-size="4.5" font-weight="bold" fill="#111" text-anchor="start" stroke="#111" stroke-width="0.15" stroke-linejoin="round">no. 7</text>
<line x1="383.3" y1="124" x2="397.3" y2="124" stroke="#111" stroke-width="1.1"/>
<polygon points="390.4,125.94 388.6,122.7 392.2,122.7" fill="#111"/>
<text x="398.2" y="125.6" font-family="'Liberation Sans', sans-serif" font-size="4.5" font-weight="bold" fill="#111" text-anchor="start" stroke="#111" stroke-width="0.15" stroke-linejoin="round">no. 8</text>
<line x1="383.3" y1="130" x2="397.3" y2="130" stroke="#d4143c" stroke-width="1.1"/>
<circle cx="390.4" cy="130" r="1.8" fill="#d4143c"/>
<text x="398.2" y="131.6" font-family="'Liberation Sans', sans-serif" font-size="4.5" font-weight="bold" fill="#111" text-anchor="start" stroke="#111" stroke-width="0.15" stroke-linejoin="round">no. 9</text>
<line x1="383.3" y1="136.9" x2="397.3" y2="136.9" stroke="#d4143c" stroke-width="1.1"/>
<rect x="388.5" y="135" width="3.8" height="3.8" fill="#d4143c"/>
<text x="398.2" y="138.5" font-family="'Liberation Sans', sans-serif" font-size="4.5" font-weight="bold" fill="#111" text-anchor="start" stroke="#111" stroke-width="0.15" stroke-linejoin="round">no. 10</text>
<line x1="418.3" y1="79.8" x2="432.3" y2="79.8" stroke="#111" stroke-width="1.1"/>
<circle cx="425.4" cy="79.8" r="2" fill="#111"/>
<text x="434.7" y="81.4" font-family="'Liberation Sans', sans-serif" font-size="4.5" font-weight="bold" fill="#111" text-anchor="start" stroke="#111" stroke-width="0.15" stroke-linejoin="round">no. 11</text>
<line x1="418.3" y1="85.7" x2="432.3" y2="85.7" stroke="#d4143c" stroke-width="1.1"/>
<polygon points="425.4,87.64 423.6,84.4 427.2,84.4" fill="#d4143c"/>
<text x="434.7" y="87.3" font-family="'Liberation Sans', sans-serif" font-size="4.5" font-weight="bold" fill="#111" text-anchor="start" stroke="#111" stroke-width="0.15" stroke-linejoin="round">no. 12</text>
<line x1="418.3" y1="91.3" x2="432.3" y2="91.3" stroke="#d4143c" stroke-width="1.1"/>
<circle cx="425.4" cy="91.3" r="0.8" fill="#d4143c"/>
<text x="434.7" y="92.9" font-family="'Liberation Sans', sans-serif" font-size="4.5" font-weight="bold" fill="#111" text-anchor="start" stroke="#111" stroke-width="0.15" stroke-linejoin="round">no. 13</text>
<line x1="418.3" y1="97.1" x2="432.3" y2="97.1" stroke="#d4143c" stroke-width="1.1"/>
<polygon points="425.4,95.05 423.5,98.47 427.3,98.47" fill="#d4143c"/>
<text x="434.7" y="98.7" font-family="'Liberation Sans', sans-serif" font-size="4.5" font-weight="bold" fill="#111" text-anchor="start" stroke="#111" stroke-width="0.15" stroke-linejoin="round">no. 14</text>
</svg>
</body></html>
